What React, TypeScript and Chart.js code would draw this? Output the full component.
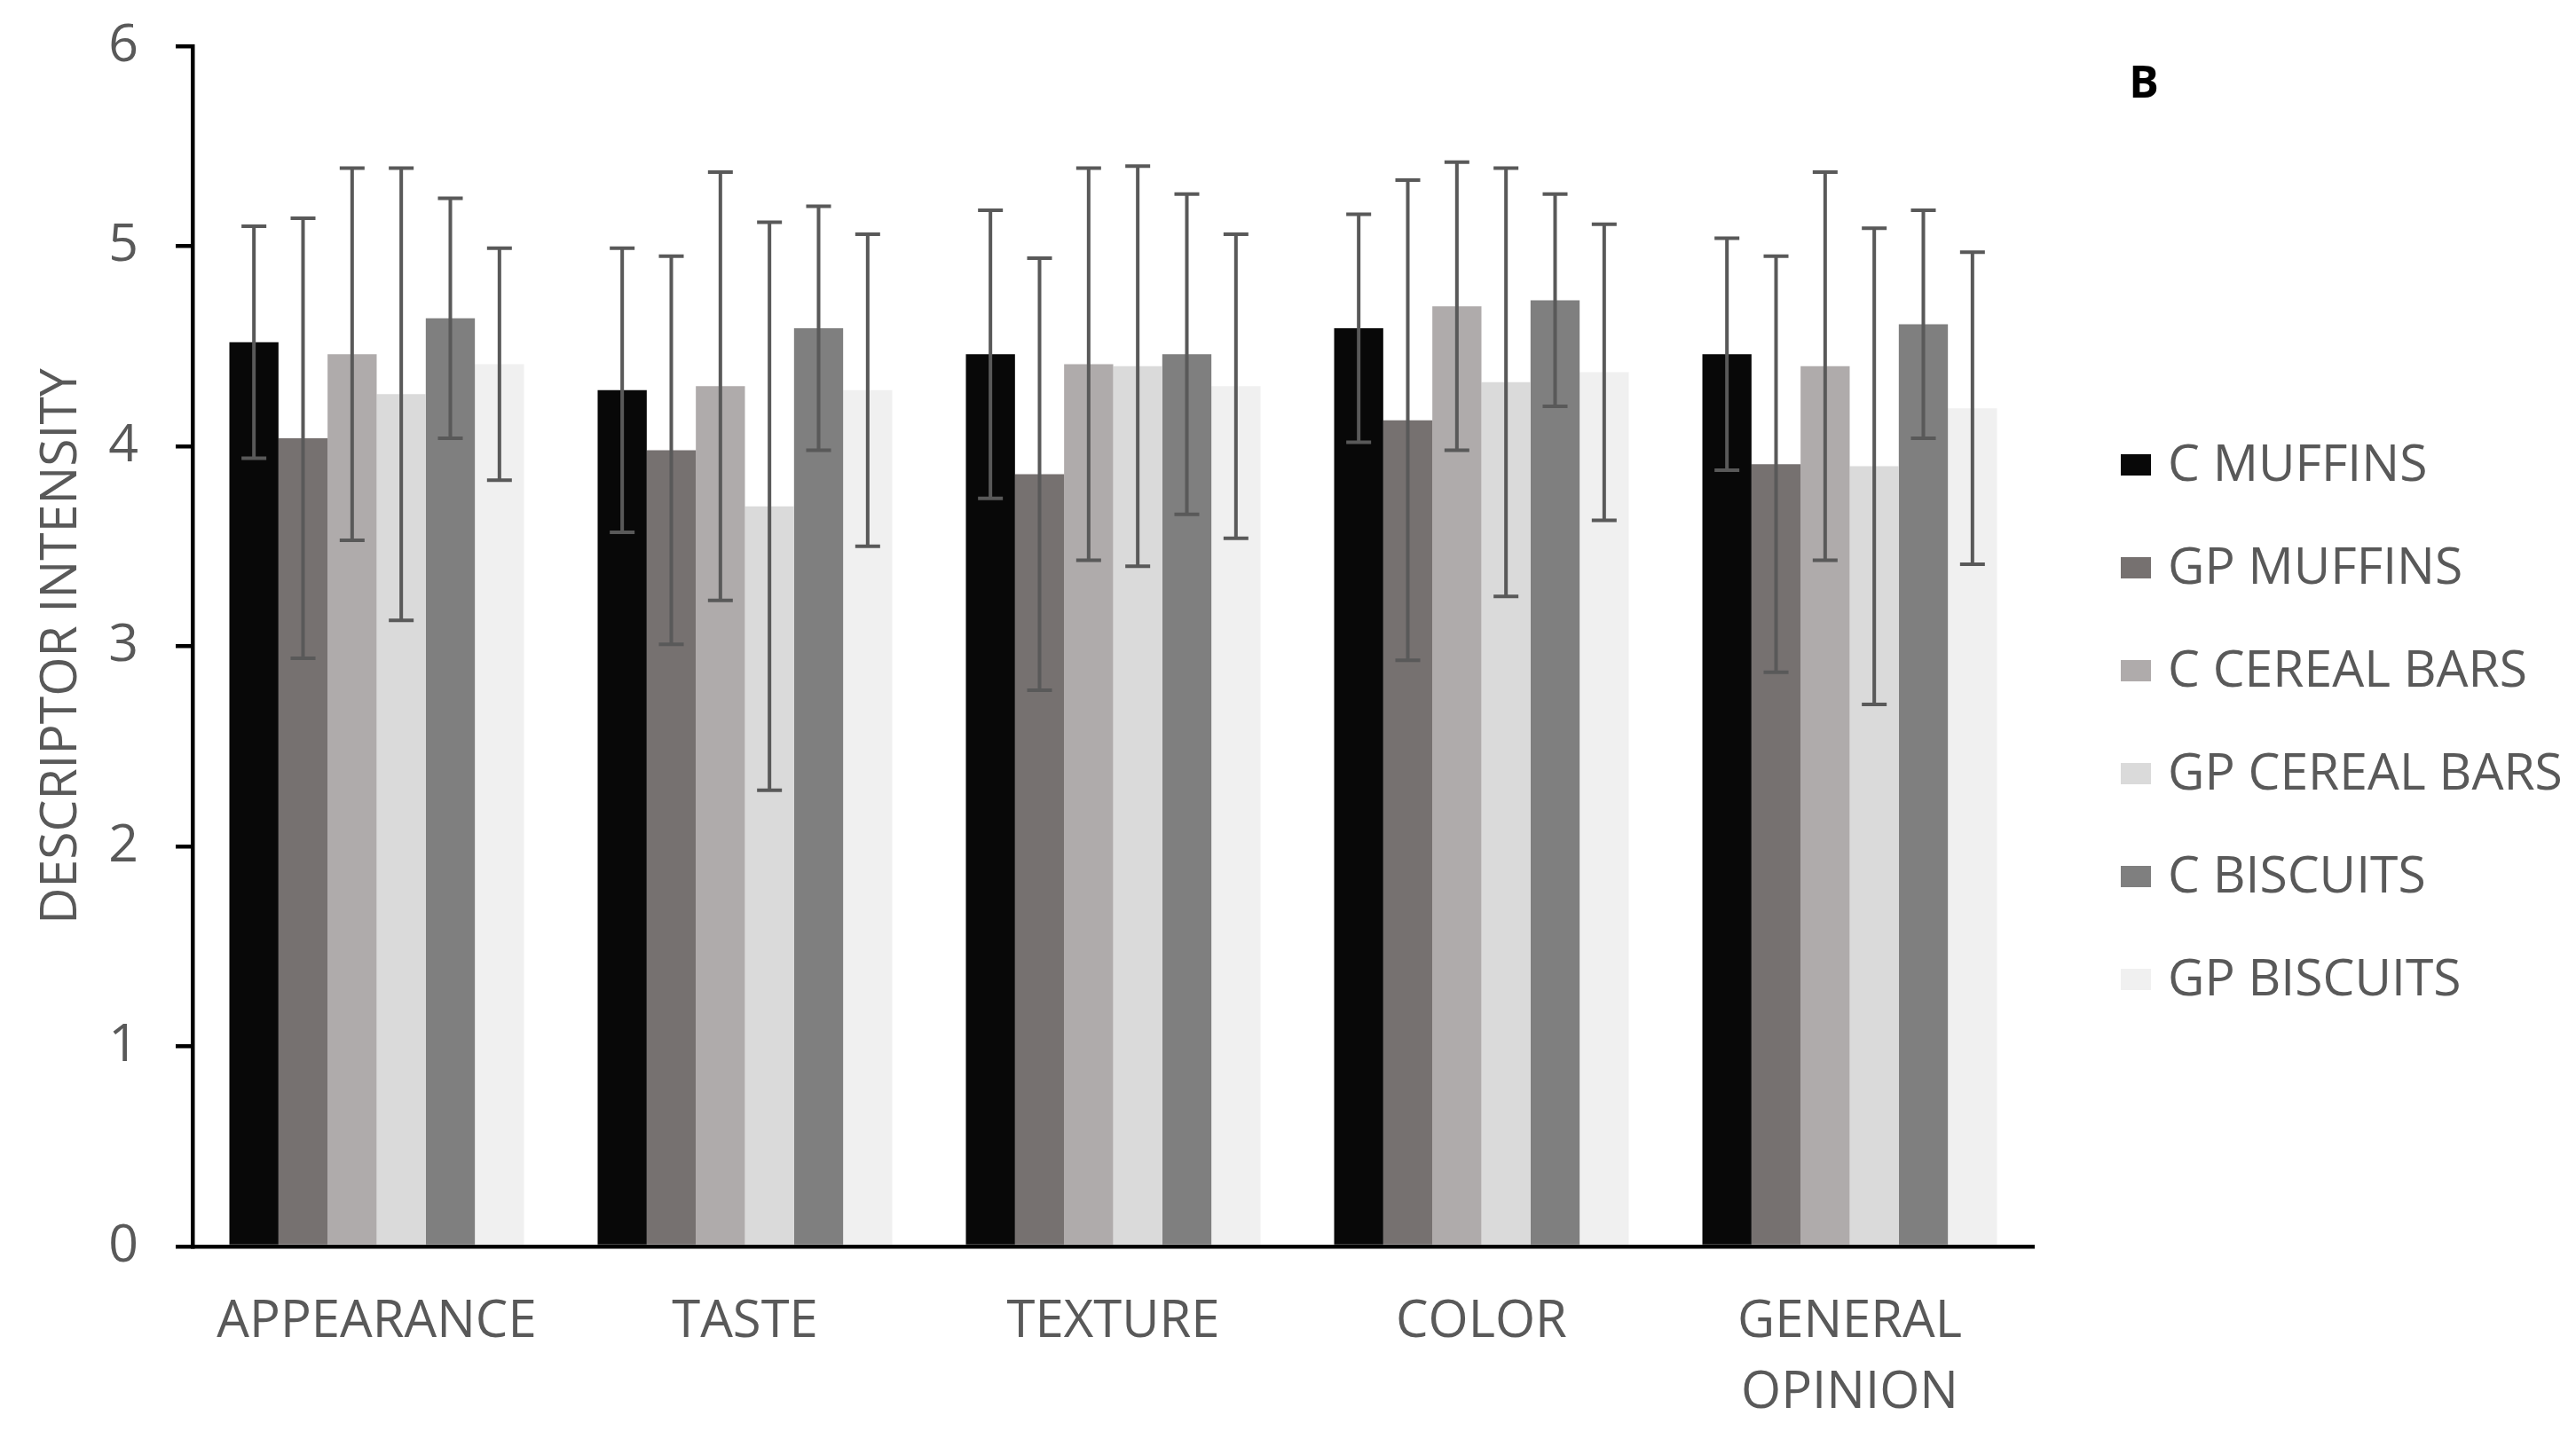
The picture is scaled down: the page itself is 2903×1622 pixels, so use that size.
import React, { useEffect, useRef } from "react";
import { Chart, registerables } from "chart.js";

Chart.register(...registerables);

const categories: (string | string[])[] = ["APPEARANCE", "TASTE", "TEXTURE", "COLOR", ["GENERAL", "OPINION"]];
const seriesNames = ["C MUFFINS", "GP MUFFINS", "C CEREAL BARS", "GP CEREAL BARS", "C BISCUITS", "GP BISCUITS"];
const seriesColors = ["#080808", "#767170", "#afabab", "#dadada", "#7f7f7f", "#f0f0f0"];

const cMuffins = [4.52, 4.28, 4.46, 4.59, 4.46];
const gpMuffins = [4.04, 3.98, 3.86, 4.13, 3.91];
const cCerealBars = [4.46, 4.3, 4.41, 4.7, 4.4];
const gpCerealBars = [4.26, 3.7, 4.4, 4.32, 3.9];
const cBiscuits = [4.64, 4.59, 4.46, 4.73, 4.61];
const gpBiscuits = [4.41, 4.28, 4.3, 4.37, 4.19];

const cMuffinsSd = [0.58, 0.71, 0.72, 0.57, 0.58];
const gpMuffinsSd = [1.1, 0.97, 1.08, 1.2, 1.04];
const cCerealBarsSd = [0.93, 1.07, 0.98, 0.72, 0.97];
const gpCerealBarsSd = [1.13, 1.42, 1.0, 1.07, 1.19];
const cBiscuitsSd = [0.6, 0.61, 0.8, 0.53, 0.57];
const gpBiscuitsSd = [0.58, 0.78, 0.76, 0.74, 0.78];

const yTicks = [0, 1, 2, 3, 4, 5, 6];

const seriesValues = [cMuffins, gpMuffins, cCerealBars, gpCerealBars, cBiscuits, gpBiscuits];
const seriesSds = [cMuffinsSd, gpMuffinsSd, cCerealBarsSd, gpCerealBarsSd, cBiscuitsSd, gpBiscuitsSd];

const FONT = "'Open Sans', sans-serif";
const TEXT_GRAY = "#595959";

const errorBarPlugin = {
  id: "errorBars",
  afterDatasetsDraw(chart: any) {
    const ctx = chart.ctx;
    const yScale = chart.scales.y;
    ctx.save();
    ctx.strokeStyle = "#595959";
    ctx.lineWidth = 4;
    chart.data.datasets.forEach((ds: any, di: number) => {
      const meta = chart.getDatasetMeta(di);
      meta.data.forEach((el: any, i: number) => {
        const m = ds.data[i];
        const sd = seriesSds[di][i];
        const x = el.x;
        const yt = yScale.getPixelForValue(m + sd);
        const yb = yScale.getPixelForValue(m - sd);
        const cap = 14;
        ctx.beginPath();
        ctx.moveTo(x, yt);
        ctx.lineTo(x, yb);
        ctx.moveTo(x - cap, yt);
        ctx.lineTo(x + cap, yt);
        ctx.moveTo(x - cap, yb);
        ctx.lineTo(x + cap, yb);
        ctx.stroke();
      });
    });
    ctx.restore();
  },
};

const legendPlugin = {
  id: "sideLegend",
  afterDraw(chart: any) {
    const ctx = chart.ctx;
    ctx.save();
    const boxX = 2390;
    const textX = 2443;
    const y0 = 524;
    const step = 116;
    ctx.font = `57px ${FONT}`;
    ctx.textBaseline = "middle";
    ctx.textAlign = "left";
    seriesNames.forEach((name, i) => {
      const y = y0 + i * step;
      ctx.fillStyle = seriesColors[i];
      ctx.fillRect(boxX, y - 12, 34, 24);
      ctx.fillStyle = TEXT_GRAY;
      ctx.fillText(name, textX, y + 2);
    });
    ctx.fillStyle = "#000000";
    ctx.font = `bold 50px ${FONT}`;
    ctx.textAlign = "center";
    ctx.fillText("B", 2416, 96);
    ctx.restore();
  },
};

export default function App() {
  const ref = useRef<HTMLCanvasElement | null>(null);
  useEffect(() => {
    if (!ref.current) return;
    const chart = new Chart(ref.current, {
      type: "bar",
      data: {
        labels: categories as any,
        datasets: seriesNames.map((name, i) => ({
          label: name,
          data: seriesValues[i],
          backgroundColor: seriesColors[i],
          borderWidth: 0,
          categoryPercentage: 0.8,
          barPercentage: 1.0,
        })),
      },
      options: {
        responsive: false,
        animation: false,
        layout: { padding: { left: 0, top: 52, right: 611, bottom: 0 } },
        plugins: {
          legend: { display: false },
          tooltip: { enabled: false },
        },
        scales: {
          x: {
            grid: { display: false, drawTicks: false },
            border: { display: true, color: "#000000", width: 4.5 },
            ticks: {
              color: TEXT_GRAY,
              font: { family: FONT, size: 58, lineHeight: 1.38 },
              padding: 45,
              maxRotation: 0,
              autoSkip: false,
            },
            afterFit(scale: any) {
              scale.height = 217;
              scale.paddingLeft = 0;
              scale.paddingRight = 0;
            },
          },
          y: {
            min: 0,
            max: 6,
            afterBuildTicks(scale: any) {
              scale.ticks = yTicks.map((v) => ({ value: v }));
            },
            grid: {
              display: true,
              drawOnChartArea: false,
              drawTicks: true,
              tickLength: 19,
              color: "#000000",
              lineWidth: 4.5,
            },
            border: { display: true, color: "#000000", width: 4.5 },
            ticks: {
              color: TEXT_GRAY,
              font: { family: FONT, size: 59 },
              padding: 42,
            },
            title: {
              display: true,
              text: "DESCRIPTOR INTENSITY",
              color: TEXT_GRAY,
              font: { family: FONT, size: 57 },
              padding: { top: 36, bottom: 0 },
            },
            afterFit(scale: any) {
              scale.width = 217;
              scale.paddingTop = 0;
              scale.paddingBottom = 0;
            },
          },
        },
      },
      plugins: [errorBarPlugin, legendPlugin],
    });
    return () => chart.destroy();
  }, []);
  return (
    <div style={{ position: "fixed", left: 0, top: 0, width: 2903, height: 1622, background: "#ffffff" }}>
      <canvas ref={ref} width={2903} height={1622} style={{ width: 2903, height: 1622, display: "block" }} />
    </div>
  );
}
